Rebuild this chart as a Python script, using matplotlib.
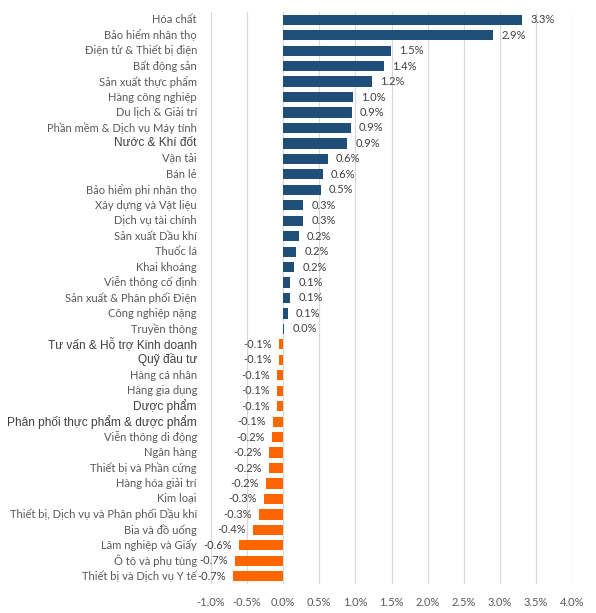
import matplotlib
matplotlib.use('Agg')
import matplotlib.pyplot as plt
from matplotlib.ticker import FuncFormatter

# ngành và mức đóng góp (%)
nganh = [
    "Hóa chất", "Bảo hiểm nhân thọ", "Điện tử & Thiết bị điện", "Bất động sản",
    "Sản xuất thực phẩm", "Hàng công nghiệp", "Du lịch & Giải trí",
    "Phần mềm & Dịch vụ Máy tính", "Nước & Khí đốt", "Vận tải", "Bán lẻ",
    "Bảo hiểm phi nhân thọ", "Xây dựng và Vật liệu", "Dịch vụ tài chính",
    "Sản xuất Dầu khí", "Thuốc lá", "Khai khoáng", "Viễn thông cố định",
    "Sản xuất & Phân phối Điện", "Công nghiệp nặng", "Truyền thông",
    "Tư vấn & Hỗ trợ Kinh doanh", "Quỹ đầu tư", "Hàng cá nhân", "Hàng gia dụng",
    "Dược phẩm", "Phân phối thực phẩm & dược phẩm", "Viễn thông di động",
    "Ngân hàng", "Thiết bị và Phần cứng", "Hàng hóa giải trí", "Kim loại",
    "Thiết bị, Dịch vụ và Phân phối Dầu khí", "Bia và đồ uống",
    "Lâm nghiệp và Giấy", "Ô tô và phụ tùng", "Thiết bị và Dịch vụ Y tế",
]
gia_tri = [
    3.31, 2.91, 1.49, 1.40, 1.23, 0.97, 0.95, 0.94, 0.89, 0.62, 0.55,
    0.52, 0.28, 0.28, 0.22, 0.18, 0.155, 0.10, 0.10, 0.067, 0.015,
    -0.06, -0.06, -0.08, -0.08, -0.09, -0.14, -0.16, -0.19, -0.20, -0.24,
    -0.27, -0.34, -0.42, -0.61, -0.67, -0.70,
]
# các nhãn dùng font khác (to hơn)
nhan_to = {"Nước & Khí đốt", "Tư vấn & Hỗ trợ Kinh doanh", "Quỹ đầu tư",
           "Dược phẩm", "Phân phối thực phẩm & dược phẩm"}

xanh = '#1F4E79'
cam = '#FF6600'
xam = '#595959'

fig = plt.figure(figsize=(5.96, 6.13), dpi=100)
ax = fig.add_axes([211 / 596, 1 - 584 / 613, 361 / 596, 572 / 613])

y = list(range(len(nganh)))
mau = [xanh if v >= 0 else cam for v in gia_tri]
ax.barh(y, gia_tri, height=0.66, color=mau, zorder=3)

ax.set_ylim(len(nganh) - 0.5, -0.5)
ax.set_xlim(-1.0, 4.0)
ax.set_xticks([-1.0, -0.5, 0.0, 0.5, 1.0, 1.5, 2.0, 2.5, 3.0, 3.5, 4.0])
ax.xaxis.set_major_formatter(FuncFormatter(lambda v, p: f"{v:.1f}%"))
ax.grid(axis='x', color='#D9D9D9', linewidth=0.8, zorder=0)
for s in ax.spines.values():
    s.set_visible(False)
ax.tick_params(axis='both', length=0)
ax.tick_params(axis='x', labelsize=8, labelcolor=xam, pad=9)
for t in ax.get_xticklabels():
    t.set_family('Lato')

ax.set_yticks([])
# nhãn ngành nằm bên trái vùng vẽ
for i, ten in enumerate(nganh):
    if ten in nhan_to:
        ax.text(-1.0 - 0.195, i, ten, ha='right', va='center', fontsize=8.6,
                family='Liberation Sans', color='#404040')
    else:
        ax.text(-1.0 - 0.195, i, ten, ha='right', va='center', fontsize=8,
                family='Lato', color=xam)

# nhãn giá trị
for i, v in enumerate(gia_tri):
    nhan = f"{v:.1f}%"
    if v >= 0:
        ax.text(v + 0.11, i, nhan, ha='left', va='center', fontsize=8,
                family='Lato', color='#404040')
    else:
        ax.text(v - 0.1, i, nhan, ha='right', va='center', fontsize=8,
                family='Lato', color='#404040')

fig.savefig('out.png', dpi=100)
